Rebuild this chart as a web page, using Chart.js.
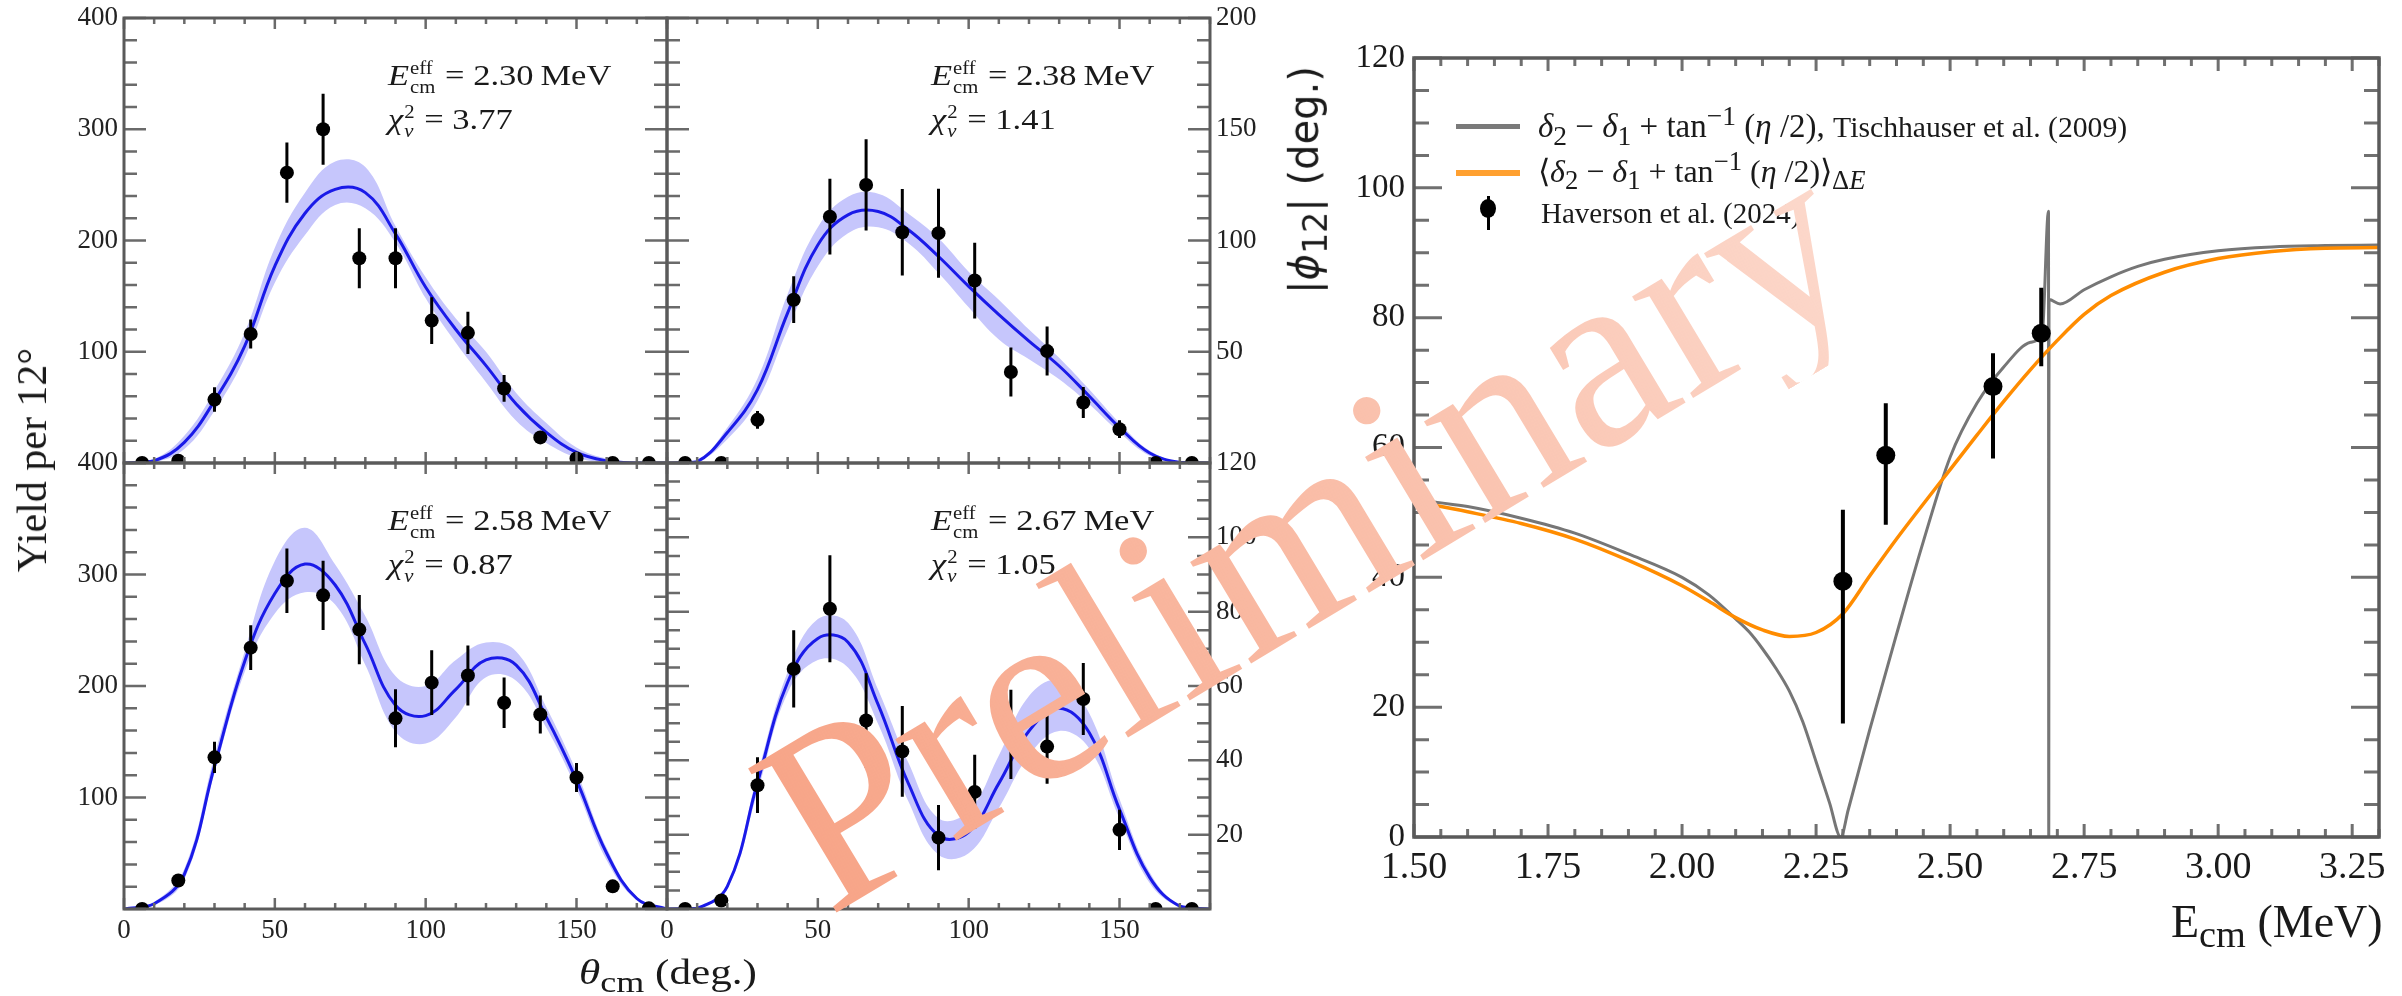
<!DOCTYPE html>
<html>
<head>
<meta charset="utf-8">
<style>
html, body { margin: 0; padding: 0; background: #fff; }
body { position: relative; width: 2402px; height: 996px; overflow: hidden; }
canvas { position: absolute; }
.t { position: absolute; white-space: nowrap; line-height: 1; color: #1a1a1a; font-family: "Liberation Serif", serif; transform-origin: 0 0; }
.mk { display: inline-block; width: 0; height: 0; }
.ss { display: inline-flex; flex-direction: column; font-size: 0.6em; line-height: 1.05; vertical-align: 0.62em; margin-left: 0.05em; margin-right: 0.05em; }
.rot { position: absolute; white-space: nowrap; line-height: 1; color: #1a1a1a; transform: translate(-50%, -50%) rotate(-90deg); }
.sw { position: absolute; }
#wm {
  position: absolute; left: 1306px; top: 529px;
  font-family: "Liberation Serif", serif; font-size: 258px; line-height: 1; white-space: nowrap;
  transform: translate(-50%, -50%) rotate(-31deg);
  background: linear-gradient(90deg, #f7a487 0%, #f9b9a2 45%, #fcd8cb 100%);
  -webkit-background-clip: text; background-clip: text; color: transparent;
  pointer-events: none;
}
</style>
</head>
<body>
<script src="https://cdn.jsdelivr.net/npm/chart.js"></script>
<script>

// measured angles (bin centres) and fit grid
const theta = [6, 18, 30, 42, 54, 66, 78, 90, 102, 114, 126, 138, 150, 162, 174]
const fitTheta = [0, 10, 20, 30, 40, 50, 60, 70, 80, 90, 100, 110, 120, 130, 140, 150, 160, 170, 180]

const panelE = ['2.30', '2.38', '2.58', '2.67']
const panelChi = ['3.77', '1.41', '0.87', '1.05']

// E = 2.30 MeV
const yield230 = [0, 2, 57, 116, 261, 300, 184, 184, 128, 117, 67, 23, 4, 0, 0]
const err230 = [0.5, 1, 11, 13, 27, 32, 27, 27, 21, 19, 12, 4, 2, 0.5, 0.5]
const fit230 = [0, 2, 18.5, 56, 105, 177, 224.5, 246, 243, 206, 158, 120, 87.5, 53, 27.5, 9.5, 2, 0, 0]
const hi230 = [0, 3.5, 24.5, 65, 117, 193.5, 243, 271, 266, 213, 167, 130, 100, 63, 36, 14, 4, 0.3, 0]
const lo230 = [0, 0.6, 12.5, 47, 94.6, 162, 205, 232, 229, 198, 148, 108, 72.6, 38, 18, 5, 0.6, 0, 0]

// E = 2.38 MeV
const yield238 = [0, 0, 19.4, 73.4, 110.7, 125, 103.7, 103.3, 82, 40.9, 50.3, 27.2, 15.2, 0, 0]
const err238 = [0.3, 0.3, 4, 10.5, 17, 20.5, 19.4, 20, 17, 11, 11, 7, 4, 0.3, 0.3]
const fit238 = [0, 0.6, 13.7, 33, 67.5, 98, 111.5, 113, 104.8, 92.8, 79.4, 66.7, 54.8, 43.6, 30, 16, 4.5, 0.3, 0]
const hi238 = [0, 0.8, 16, 38, 76, 106, 119.7, 121, 112, 101, 86, 73.4, 60, 47.3, 33, 18, 5.5, 0.4, 0]
const lo238 = [0, 0.4, 10.7, 28, 60, 88.4, 103.3, 106, 98.8, 85.4, 70, 55.5, 46.6, 37.6, 26.4, 13.7, 3.3, 0.2, 0]

// E = 2.58 MeV
const yield258 = [0, 25.6, 136, 234.4, 294.4, 281.3, 250.6, 171, 203, 209.4, 185, 174.4, 118, 20.3, 0.6]
const err258 = [0.5, 5, 14, 20, 29, 31, 31, 26, 29, 27, 22.7, 17, 13, 4, 0.5]
const fit258 = [0, 4.7, 31, 128, 222, 283, 309.4, 290.6, 237.5, 182.8, 173.4, 197, 223.4, 218.8, 172, 115.6, 50, 9.4, 0]
const hi258 = [0, 6.3, 36, 137.5, 231, 312, 342, 309, 262.5, 209, 200, 223.4, 239, 231, 181, 123.4, 54.7, 11, 0]
const lo258 = [0, 3.1, 26.5, 122, 212.5, 265, 284, 273, 218.8, 159, 148.4, 172, 207.8, 204.7, 162.5, 107.8, 43.8, 7.8, 0]

// E = 2.67 MeV
const yield267 = [0, 2.3, 33.3, 64.6, 80.8, 50.7, 42.4, 19.2, 31.5, 47, 43.7, 56.5, 21.3, 0, 0]
const err267 = [0.2, 0.8, 7.5, 10.4, 14.4, 12.7, 12.2, 8.8, 10, 12, 10, 9.7, 5.4, 0.2, 0.2]
const fit267 = [0, 0.2, 6.1, 34, 61, 72.8, 71.8, 55, 33.8, 19.7, 20.7, 33.8, 47.9, 54, 47.4, 26.8, 8.5, 0.75, 0]
const hi267 = [0, 0.3, 6.6, 36.2, 63.8, 78, 77, 59, 39.4, 24.4, 26.3, 41.3, 57.3, 61.5, 52.6, 29.6, 9.9, 0.9, 0]
const lo267 = [0, 0.1, 5.4, 31.5, 58.2, 67, 65, 49.8, 29, 14.6, 15, 27.2, 41.3, 47.9, 43.2, 24.4, 7, 0.5, 0]

// phase difference vs energy
const tischE = [1.50, 1.60, 1.70, 1.80, 1.90, 2.00, 2.05, 2.10, 2.125, 2.15, 2.175, 2.20, 2.225, 2.25, 2.275, 2.296, 2.31, 2.35, 2.40, 2.45, 2.50, 2.55, 2.60, 2.65, 2.672, 2.6835, 2.684, 2.6845, 2.705, 2.75, 2.80, 2.85, 2.90, 3.00, 3.10, 3.20, 3.30]
const tischPhase = [52.0, 50.9, 49.1, 46.8, 43.6, 40.0, 37.3, 33.6, 31.6, 29.0, 26.0, 22.5, 17.8, 11.6, 5.3, 0, 4.2, 16.5, 31.2, 45.5, 58.5, 66.8, 72.4, 76.2, 77.8, 96.4, 0, 82.8, 82.1, 84.3, 86.3, 87.9, 89.0, 90.3, 90.9, 91.1, 91.2]
const avgE = [1.50, 1.60, 1.70, 1.80, 1.90, 2.00, 2.05, 2.10, 2.15, 2.20, 2.25, 2.30, 2.35, 2.40, 2.45, 2.50, 2.55, 2.60, 2.65, 2.70, 2.75, 2.80, 2.90, 3.00, 3.10, 3.20, 3.30]
const avgPhase = [51.7, 50.1, 48.3, 45.9, 42.6, 38.7, 36.3, 33.8, 31.9, 30.9, 31.5, 34.4, 40.2, 45.9, 51.3, 56.6, 61.9, 67.1, 72.0, 76.5, 80.5, 83.4, 87.0, 89.1, 90.2, 90.7, 90.8]
const ecm = [2.30, 2.38, 2.58, 2.67]
const phase = [39.4, 58.8, 69.4, 77.6]
const phaseErrHi = [11.0, 8.0, 5.1, 7.0]
const phaseErrLo = [21.9, 10.7, 11.1, 5.1]

Chart.defaults.font.family = '"Liberation Serif", serif'
Chart.defaults.color = '#222'

const BAND = 'rgb(198,198,252)'
const BLUE = '#1a1ae8'

function pts(xs, ys) {
  return xs.map((x, i) => ({ x: x, y: ys[i] }))
}

const errorBars = {
  id: 'errorBars',
  afterDatasetsDraw(chart) {
    const { ctx, chartArea: a } = chart
    const x = chart.scales.x, y = chart.scales.y
    chart.data.datasets.forEach(ds => {
      if (!ds.errLo) return
      ctx.save()
      ctx.beginPath()
      ctx.rect(a.left, a.top, a.right - a.left, a.bottom - a.top)
      ctx.clip()
      ctx.strokeStyle = '#000'
      ctx.lineWidth = ds.errWidth || 3
      ctx.beginPath()
      ds.data.forEach((p, i) => {
        const px = x.getPixelForValue(p.x)
        ctx.moveTo(px, y.getPixelForValue(p.y - ds.errLo[i]))
        ctx.lineTo(px, y.getPixelForValue(p.y + ds.errHi[i]))
      })
      ctx.stroke()
      ctx.restore()
    })
  }
}

// inward ticks on all four sides plus the frame
const frameTicks = {
  id: 'frame',
  afterDatasetsDraw(chart, args, o) {
    const { ctx, chartArea: a } = chart
    const x = chart.scales.x, y = chart.scales.y
    const isMajor = (v, step) => Math.abs(v / step - Math.round(v / step)) < 1e-6
    ctx.save()
    ctx.strokeStyle = o.tickColor
    ctx.lineWidth = o.tickWidth
    ctx.beginPath()
    const nx = Math.round((x.max - x.min) / o.xMinor)
    for (let i = 0; i <= nx; i++) {
      const v = x.min + i * o.xMinor
      const len = isMajor(v, o.xMajor) ? o.xLen[0] : o.xLen[1]
      const px = x.getPixelForValue(v)
      ctx.moveTo(px, a.bottom); ctx.lineTo(px, a.bottom - len)
      ctx.moveTo(px, a.top); ctx.lineTo(px, a.top + len)
    }
    const ny = Math.round((y.max - y.min) / o.yMinor)
    for (let i = 0; i <= ny; i++) {
      const v = y.min + i * o.yMinor
      const len = isMajor(v, o.yMajor) ? o.yLen[0] : o.yLen[1]
      const py = y.getPixelForValue(v)
      ctx.moveTo(a.left, py); ctx.lineTo(a.left + len, py)
      ctx.moveTo(a.right, py); ctx.lineTo(a.right - len, py)
    }
    ctx.stroke()
    ctx.strokeStyle = o.frameColor
    ctx.lineWidth = o.frameWidth
    ctx.strokeRect(a.left, a.top, a.right - a.left, a.bottom - a.top)
    ctx.restore()
  }
}

function makePanel(p) {
  const L = 90, R = 90, T = 24, B = 56
  const cv = document.createElement('canvas')
  cv.width = p.w + L + R
  cv.height = p.h + T + B
  cv.style.left = (p.x - L) + 'px'
  cv.style.top = (p.y - T) + 'px'
  document.body.appendChild(cv)
  const tickFont = { family: '"Liberation Serif", serif', size: 27 }
  new Chart(cv, {
    type: 'line',
    data: {
      datasets: [
        { data: pts(theta, p.yields), errLo: p.err, errHi: p.err, errWidth: 3, showLine: false,
          pointRadius: 7, pointHoverRadius: 7, pointBackgroundColor: '#000', pointBorderWidth: 0 },
        { data: pts(fitTheta, p.fit), borderColor: BLUE, borderWidth: 3, pointRadius: 0, fill: false, tension: 0.4 },
        { data: pts(fitTheta, p.hi), borderWidth: 0, pointRadius: 0, fill: '+1', backgroundColor: BAND, tension: 0.4 },
        { data: pts(fitTheta, p.lo), borderWidth: 0, pointRadius: 0, fill: false, tension: 0.4 }
      ]
    },
    options: {
      responsive: false, animation: false, devicePixelRatio: 1, events: [],
      layout: { padding: { top: T, bottom: 0, left: p.right ? L : 0, right: p.right ? 0 : R } },
      plugins: {
        legend: { display: false }, tooltip: { enabled: false },
        frame: { xMajor: 50, xMinor: 10, yMajor: p.yMajor, yMinor: p.yMinor, xLen: [11, 6], yLen: [22, 13],
                 tickColor: '#6a6a6a', tickWidth: 2.5, frameColor: '#5a5a5a', frameWidth: 3 }
      },
      scales: {
        x: {
          type: 'linear', min: 0, max: 180,
          grid: { display: false, drawTicks: false }, border: { display: false },
          ticks: { display: p.xLabels, stepSize: 50, includeBounds: false, autoSkip: false, maxRotation: 0,
                   font: tickFont, color: '#222', padding: 6 },
          afterFit: s => { s.height = B }
        },
        y: {
          type: 'linear', position: p.right ? 'right' : 'left', min: 0, max: p.ymax,
          grid: { display: false, drawTicks: false }, border: { display: false },
          ticks: { stepSize: p.yMajor, includeBounds: false, autoSkip: false, font: tickFont, color: '#222',
                   padding: 6, callback: v => (v === 0 ? '' : v) },
          afterFit: s => { s.width = p.right ? R : L }
        }
      }
    },
    plugins: [errorBars, frameTicks]
  })
}

makePanel({ x: 124, y: 18, w: 543, h: 445, yields: yield230, err: err230, fit: fit230, hi: hi230, lo: lo230,
            ymax: 400, yMajor: 100, yMinor: 20, right: false, xLabels: false })
makePanel({ x: 667, y: 18, w: 543, h: 445, yields: yield238, err: err238, fit: fit238, hi: hi238, lo: lo238,
            ymax: 200, yMajor: 50, yMinor: 10, right: true, xLabels: false })
makePanel({ x: 124, y: 463, w: 543, h: 446, yields: yield258, err: err258, fit: fit258, hi: hi258, lo: lo258,
            ymax: 400, yMajor: 100, yMinor: 20, right: false, xLabels: true })
makePanel({ x: 667, y: 463, w: 543, h: 446, yields: yield267, err: err267, fit: fit267, hi: hi267, lo: lo267,
            ymax: 120, yMajor: 20, yMinor: 5, right: true, xLabels: true })

// right-hand plot
;(function () {
  const P = { x: 1414, y: 58, w: 965, h: 779 }
  const L = 110, R = 20, T = 30, B = 70
  const cv = document.createElement('canvas')
  cv.width = P.w + L + R
  cv.height = P.h + T + B
  cv.style.left = (P.x - L) + 'px'
  cv.style.top = (P.y - T) + 'px'
  document.body.appendChild(cv)
  new Chart(cv, {
    type: 'line',
    data: {
      datasets: [
        { data: pts(ecm, phase), errLo: phaseErrLo, errHi: phaseErrHi, errWidth: 4, showLine: false,
          pointRadius: 9.5, pointHoverRadius: 9.5, pointBackgroundColor: '#000', pointBorderWidth: 0 },
        { data: pts(avgE, avgPhase), borderColor: '#ff8c00', borderWidth: 3.5, pointRadius: 0, fill: false,
          cubicInterpolationMode: 'monotone' },
        { data: pts(tischE, tischPhase), borderColor: '#767676', borderWidth: 3, pointRadius: 0, fill: false,
          cubicInterpolationMode: 'monotone' }
      ]
    },
    options: {
      responsive: false, animation: false, devicePixelRatio: 1, events: [],
      layout: { padding: { top: T, right: R, left: 0, bottom: 0 } },
      plugins: {
        legend: { display: false }, tooltip: { enabled: false },
        frame: { xMajor: 0.25, xMinor: 0.05, yMajor: 20, yMinor: 5, xLen: [13, 8], yLen: [28, 15],
                 tickColor: '#707070', tickWidth: 3, frameColor: '#5a5a5a', frameWidth: 3.5 }
      },
      scales: {
        x: {
          type: 'linear', min: 1.5, max: 3.3,
          grid: { display: false, drawTicks: false }, border: { display: false },
          ticks: { stepSize: 0.25, includeBounds: false, autoSkip: false, maxRotation: 0,
                   font: { size: 38 }, color: '#1a1a1a', padding: 8, callback: v => v.toFixed(2) },
          afterFit: s => { s.height = B }
        },
        y: {
          type: 'linear', min: 0, max: 120,
          grid: { display: false, drawTicks: false }, border: { display: false },
          ticks: { stepSize: 20, autoSkip: false, font: { size: 33 }, color: '#1a1a1a', padding: 9 },
          afterFit: s => { s.width = L }
        }
      }
    },
    plugins: [errorBars, frameTicks]
  })
})()

// text placed on its baseline
function put(html, x, base, size, family, sx) {
  const d = document.createElement('div')
  d.className = 't'
  d.style.fontSize = size + 'px'
  if (family) d.style.fontFamily = family
  d.style.left = x + 'px'
  d.style.top = '0px'
  d.innerHTML = '<span class="mk"></span>' + html
  if (sx) d.style.transform = 'scaleX(' + sx + ')'
  document.body.appendChild(d)
  const m = d.querySelector('.mk').getBoundingClientRect().top
  d.style.top = (base - m) + 'px'
  return d
}

function rot(html, cx, cy, size, family) {
  const d = document.createElement('div')
  d.className = 'rot'
  d.style.left = cx + 'px'
  d.style.top = cy + 'px'
  d.style.fontSize = size + 'px'
  d.style.fontFamily = family
  d.innerHTML = html
  document.body.appendChild(d)
}

function swatch(x, y, w, h, bg, radius) {
  const d = document.createElement('div')
  d.className = 'sw'
  d.style.left = x + 'px'; d.style.top = y + 'px'
  d.style.width = w + 'px'; d.style.height = h + 'px'
  d.style.background = bg
  if (radius) d.style.borderRadius = radius
  document.body.appendChild(d)
}

function drawTexts() {
  const origins = [[124, 18], [667, 18], [124, 463], [667, 463]]
  origins.forEach((o, i) => {
    put('<i>E</i><span class="ss"><span>eff</span><span>cm</span></span> = ' + panelE[i] + '&thinsp;MeV',
        o[0] + 264, o[1] + 67, 30, null, 1.15)
    put('<i>χ</i><span class="ss"><span>2</span><span><i>ν</i></span></span> = ' + panelChi[i],
        o[0] + 264, o[1] + 111, 30, null, 1.15)
  })

  rot('Yield per 12°', 32, 460, 42, '"Liberation Serif", serif')
  put('<i>θ</i><sub>cm</sub> (deg.)', 579, 984, 36, null, 1.2)

  rot('|<i>ϕ</i><sub>12</sub>| (deg.)', 1308, 180, 40, '"DejaVu Sans", sans-serif')
  put('E<sub>cm</sub> (MeV)', 2171, 937, 46)

  // legend
  swatch(1456, 124, 64, 5, '#7a7a7a')
  swatch(1456, 170, 64, 6, '#ffa030')
  swatch(1486.5, 196, 3, 34, '#000')
  swatch(1480, 199, 16, 19, '#000', '50%')
  put('<i>δ</i><sub>2</sub> − <i>δ</i><sub>1</sub> + tan<sup>−1</sup> (<i>η</i> /2), <span style="font-size:0.9em">Tischhauser et al. (2009)</span>',
      1538, 137, 33)
  put('⟨<i>δ</i><sub>2</sub> − <i>δ</i><sub>1</sub> + tan<sup>−1</sup> (<i>η</i> /2)⟩<sub>Δ<i>E</i></sub>',
      1538, 182, 32)
  put('Haverson et al. (2024)', 1541, 223, 29)

  const wm = document.createElement('div')
  wm.id = 'wm'
  wm.textContent = 'Preliminary'
  document.body.appendChild(wm)
}

drawTexts()
</script>
</body>
</html>
